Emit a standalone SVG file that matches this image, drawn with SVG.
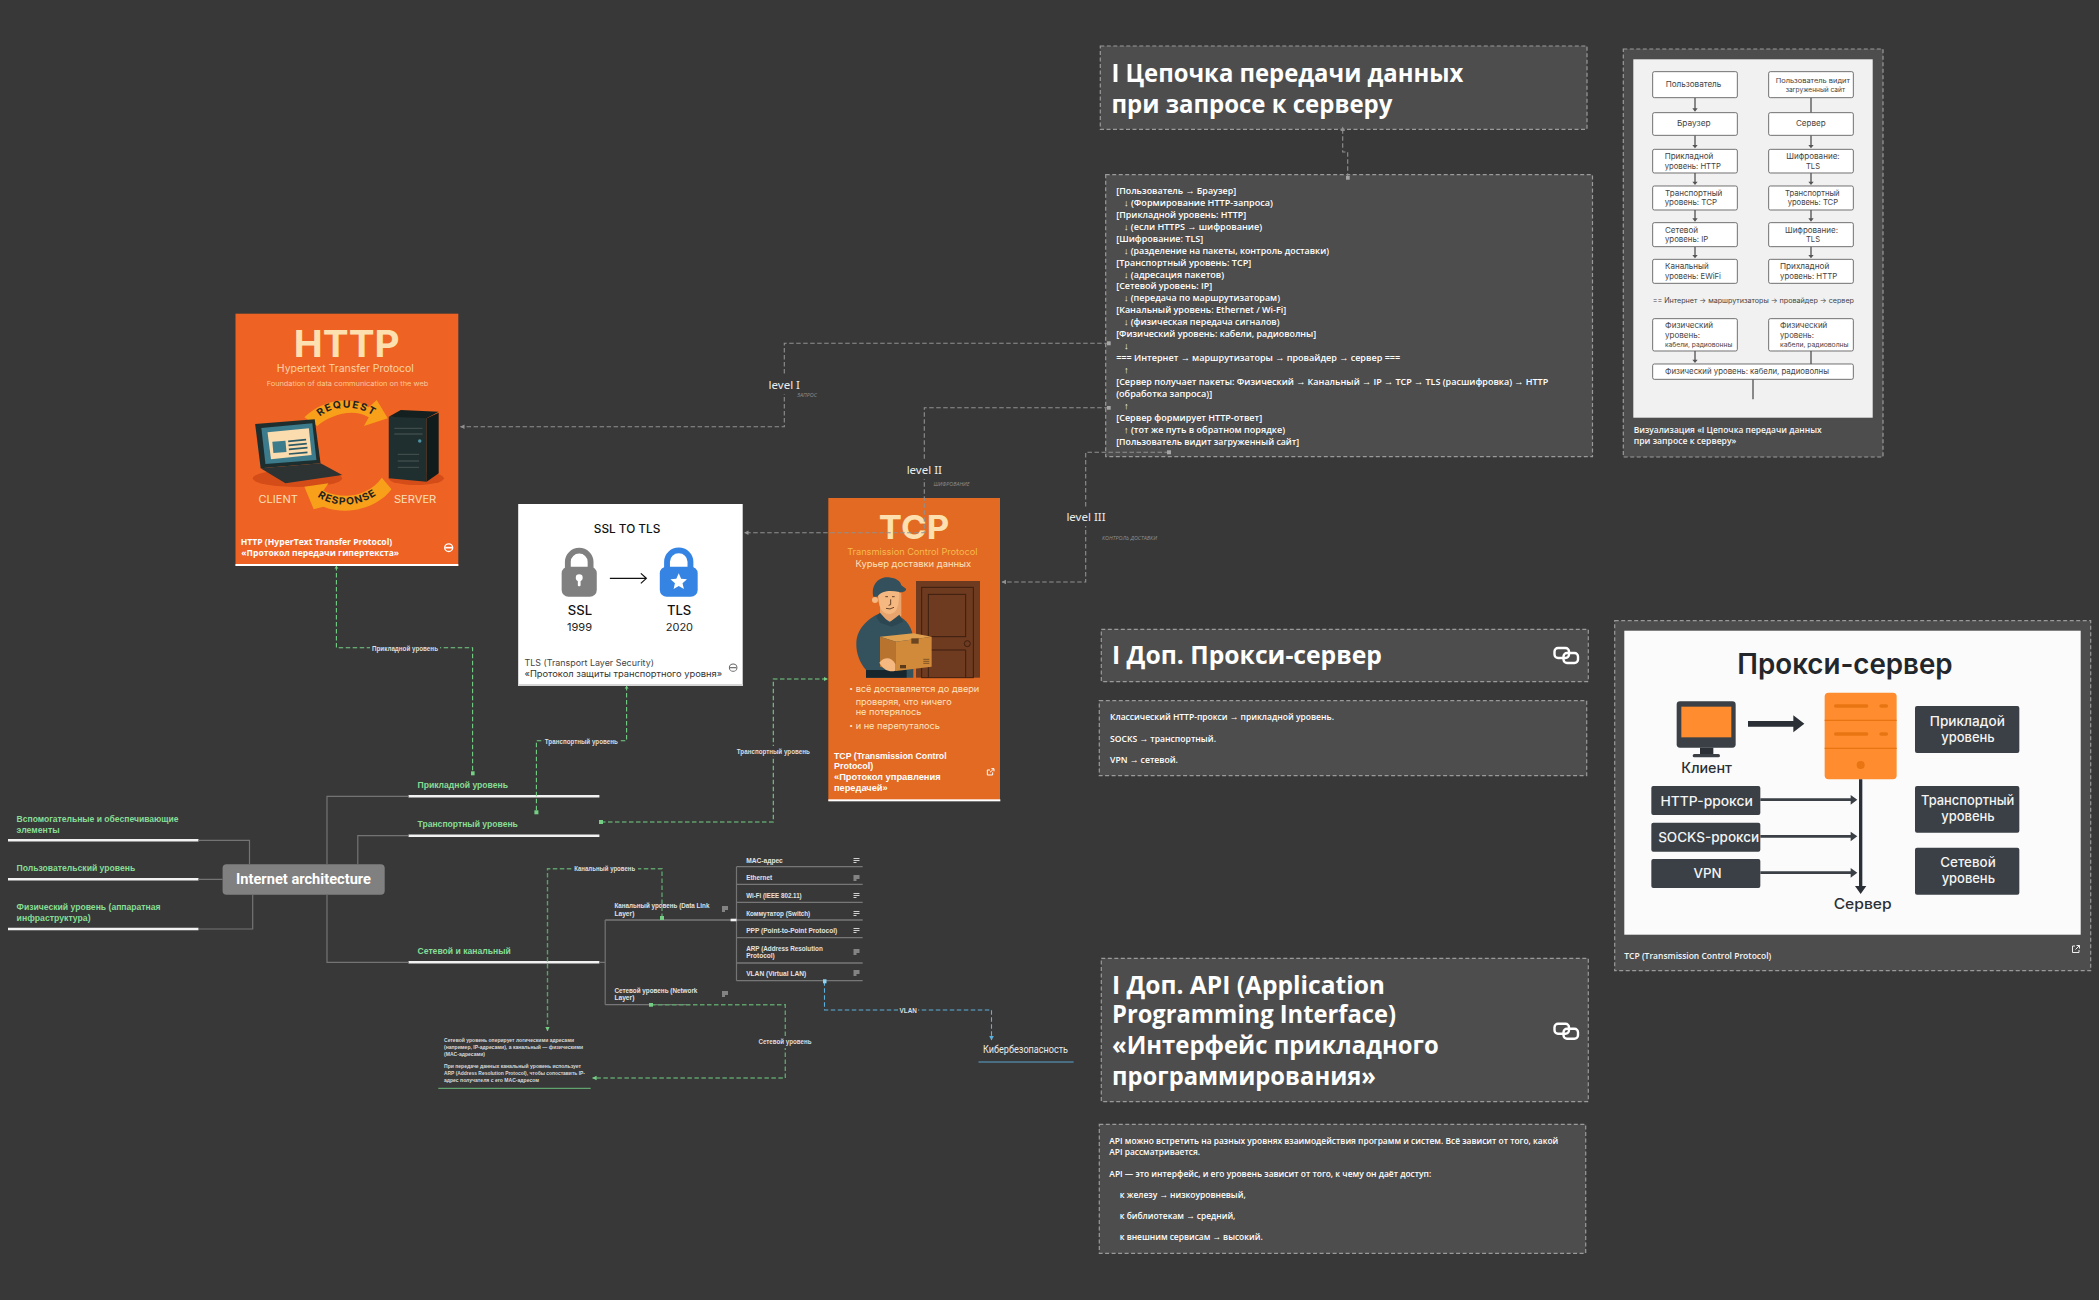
<svg xmlns="http://www.w3.org/2000/svg" width="2099" height="1300" viewBox="0 0 2099 1300">
<style>
text{font-family:"Open Sans","Noto Sans",sans-serif;}
.box{fill:#4d4d4d;stroke:#9a9a9a;stroke-width:1.2;stroke-dasharray:4 2.5;}
.h{fill:#fff;font-weight:700;font-size:24.5px;}
.b{fill:#fff;font-size:9.4px;font-weight:600;}
.cap{fill:#f6f6f6;font-size:9.4px;font-weight:600;}
.gn{fill:#86dd96;font-family:"Liberation Sans",sans-serif;font-weight:700;font-size:9.2px;}
.ul{stroke:#f2f2f2;stroke-width:2.6;fill:none;}
.row{fill:#e2e2e2;font-family:"Liberation Sans",sans-serif;font-size:6.4px;font-weight:700;}
.rl{stroke:#777;stroke-width:1.3;fill:none;}
.nt{stroke:#cfcfcf;stroke-width:1;fill:none;}
.note{fill:#d8d8d8;font-family:"Liberation Sans",sans-serif;font-size:5.4px;font-weight:700;}
.cn{fill:none;stroke-width:1.1;stroke-dasharray:4.5 2.5;}
.g{stroke:#909090;}
.gr{stroke:#74cf85;}
.gd{stroke:#5e9e6b;stroke-width:1.4;}
.bl{stroke:#5db0dc;}
.tr{fill:none;stroke:#747474;stroke-width:1.2;}
.lbl{fill:#dedede;font-family:"Liberation Sans",sans-serif;font-size:6.4px;font-weight:700;text-anchor:middle;}
.lev{fill:#ececec;font-size:11.5px;text-anchor:middle;font-family:"Noto Sans",sans-serif;}
.sub{fill:#8e8e8e;font-size:5.6px;font-style:italic;}
.bg{fill:#383838;}
.chain{fill:none;stroke:#fff;stroke-width:2.4;}
.fn{fill:#fff;stroke:#555;stroke-width:2.5;}
.ft{fill:#444;font-family:Inter,sans-serif;font-size:24px;}
.fa{stroke:#555;stroke-width:4;fill:none;}
.db{fill:#3a4046;}
.dt{fill:#f4f4f4;font-family:Inter,sans-serif;font-size:40px;font-weight:500;text-anchor:middle;}
.ot{font-family:Inter,sans-serif;}
.tc{font-family:"Liberation Sans",sans-serif;font-size:25px;font-weight:700;fill:#fff;}
</style>
<defs>
<marker id="ag" markerUnits="userSpaceOnUse" markerWidth="6" markerHeight="6" refX="4" refY="2.500" orient="auto"><path d="M0 0.200L4.500 2.500L0 4.800Z" fill="#909090"/></marker>
<marker id="agr" markerUnits="userSpaceOnUse" markerWidth="6" markerHeight="6" refX="4" refY="2.500" orient="auto"><path d="M0 0.200L4.500 2.500L0 4.800Z" fill="#74cf85"/></marker>
<marker id="abl" markerUnits="userSpaceOnUse" markerWidth="6" markerHeight="6" refX="4" refY="2.500" orient="auto"><path d="M0 0.200L4.500 2.500L0 4.800Z" fill="#5db0dc"/></marker>
<marker id="sg" markerUnits="userSpaceOnUse" markerWidth="5" markerHeight="5" refX="2" refY="2"><rect width="4" height="4" fill="#a5a5a5"/></marker>
<marker id="sgr" markerUnits="userSpaceOnUse" markerWidth="5" markerHeight="5" refX="2" refY="2"><rect width="4" height="4" fill="#74cf85"/></marker>
<marker id="sbl" markerUnits="userSpaceOnUse" markerWidth="5" markerHeight="5" refX="2" refY="2"><rect width="4" height="4" fill="#8fd4f5"/></marker>
<path id="reqp" d="M290 350C330 315 395 312 450 350"/>
<path id="resp" d="M283 590C330 624 410 624 468 574"/>
</defs>
<rect width="2099" height="1300" fill="#383838"/>

<g id="title-chain">
<rect class="box" x="1100.3" y="46" width="486.7" height="83.3"/>
<text class="h" x="1111.4" y="81.7" textLength="352" lengthAdjust="spacingAndGlyphs">I Цепочка передачи данных</text>
<text class="h" x="1111.4" y="112.7" textLength="281" lengthAdjust="spacingAndGlyphs">при запросе к серверу</text>
</g>

<g id="text-chain">
<rect class="box" x="1105.7" y="174.7" width="486.8" height="282"/>
<text class="b" x="1116.2" y="194" textLength="120" lengthAdjust="spacingAndGlyphs">[Пользователь → Браузер]</text>
<text class="b" x="1124" y="206" textLength="149" lengthAdjust="spacingAndGlyphs">↓ (Формирование HTTP-запроса)</text>
<text class="b" x="1116.2" y="218" textLength="130" lengthAdjust="spacingAndGlyphs">[Прикладной уровень: HTTP]</text>
<text class="b" x="1124" y="230" textLength="138" lengthAdjust="spacingAndGlyphs">↓ (если HTTPS → шифрование)</text>
<text class="b" x="1116.2" y="242" textLength="87" lengthAdjust="spacingAndGlyphs">[Шифрование: TLS]</text>
<text class="b" x="1124" y="254" textLength="205" lengthAdjust="spacingAndGlyphs">↓ (разделение на пакеты, контроль доставки)</text>
<text class="b" x="1116.2" y="266" textLength="135" lengthAdjust="spacingAndGlyphs">[Транспортный уровень: TCP]</text>
<text class="b" x="1124" y="278" textLength="100" lengthAdjust="spacingAndGlyphs">↓ (адресация пакетов)</text>
<text class="b" x="1116.2" y="289" textLength="96" lengthAdjust="spacingAndGlyphs">[Сетевой уровень: IP]</text>
<text class="b" x="1124" y="301" textLength="156" lengthAdjust="spacingAndGlyphs">↓ (передача по маршрутизаторам)</text>
<text class="b" x="1116.2" y="313" textLength="170" lengthAdjust="spacingAndGlyphs">[Канальный уровень: Ethernet / Wi-Fi]</text>
<text class="b" x="1124" y="325" textLength="155.5" lengthAdjust="spacingAndGlyphs">↓ (физическая передача сигналов)</text>
<text class="b" x="1116.2" y="337" textLength="200" lengthAdjust="spacingAndGlyphs">[Физический уровень: кабели, радиоволны]</text>
<text class="b" x="1124" y="349">↓</text>
<text class="b" x="1116.2" y="361" textLength="284" lengthAdjust="spacingAndGlyphs">=== Интернет → маршрутизаторы → провайдер → сервер ===</text>
<text class="b" x="1124" y="373">↑</text>
<text class="b" x="1116.2" y="385" textLength="432" lengthAdjust="spacingAndGlyphs">[Сервер получает пакеты: Физический → Канальный → IP → TCP → TLS (расшифровка) → HTTP</text>
<text class="b" x="1116.2" y="397" textLength="96" lengthAdjust="spacingAndGlyphs">(обработка запроса)]</text>
<text class="b" x="1124" y="409">↑</text>
<text class="b" x="1116.2" y="421" textLength="146" lengthAdjust="spacingAndGlyphs">[Сервер формирует HTTP-ответ]</text>
<text class="b" x="1124" y="433" textLength="161" lengthAdjust="spacingAndGlyphs">↑ (тот же путь в обратном порядке)</text>
<text class="b" x="1116.2" y="445" textLength="183" lengthAdjust="spacingAndGlyphs">[Пользователь видит загруженный сайт]</text>
</g>

<g id="image-chain">
<rect class="box" x="1623.3" y="49" width="259.7" height="408"/>
<rect x="1633.3" y="59.3" width="239.4" height="358.4" fill="#f1f1f1"/>
<g transform="translate(1610 30) scale(.33333)">
<g class="fa"><path d="M255 203V240M255 316V350M255 429V460M255 540V570M255 650V680M603 203V248M603 316V350M603 429V460M603 540V570M603 650V680M255 963V994M603 963V1002M429 1048V1108"/></g>
<path d="M247 235H263L255 245ZM247 345H263L255 355ZM247 455H263L255 465ZM247 565H263L255 575ZM247 675H263L255 685ZM595 345H611L603 355ZM595 455H611L603 465ZM595 565H611L603 575ZM595 675H611L603 685ZM247 989H263L255 999Z" fill="#555"/>
<rect class="fn" x="128" y="125" width="254" height="78" rx="5"/><rect class="fn" x="476" y="125" width="254" height="78" rx="5"/>
<rect class="fn" x="128" y="248" width="254" height="68" rx="5"/><rect class="fn" x="476" y="248" width="254" height="68" rx="5"/>
<rect class="fn" x="128" y="358" width="254" height="71" rx="5"/><rect class="fn" x="476" y="358" width="254" height="71" rx="5"/>
<rect class="fn" x="128" y="468" width="254" height="72" rx="5"/><rect class="fn" x="476" y="468" width="254" height="72" rx="5"/>
<rect class="fn" x="128" y="578" width="254" height="72" rx="5"/><rect class="fn" x="476" y="578" width="254" height="72" rx="5"/>
<rect class="fn" x="128" y="688" width="254" height="72" rx="5"/><rect class="fn" x="476" y="688" width="254" height="72" rx="5"/>
<rect class="fn" x="128" y="866" width="254" height="97" rx="5"/><rect class="fn" x="476" y="866" width="254" height="97" rx="5"/>
<rect class="fn" x="128" y="1002" width="602" height="46" rx="5"/>
<text class="ft" x="167" y="172" textLength="167" lengthAdjust="spacingAndGlyphs">Пользователь</text>
<text class="ft" x="497" y="158" textLength="223" lengthAdjust="spacingAndGlyphs" style="font-size:20px">Пользователь видит</text>
<text class="ft" x="527" y="187" textLength="178" lengthAdjust="spacingAndGlyphs" style="font-size:20px">загруженный сайт</text>
<text class="ft" x="201" y="289" textLength="101" lengthAdjust="spacingAndGlyphs">Браузер</text>
<text class="ft" x="558" y="289" textLength="89" lengthAdjust="spacingAndGlyphs">Сервер</text>
<text class="ft" x="164" y="387" textLength="146" lengthAdjust="spacingAndGlyphs">Прикладной</text>
<text class="ft" x="164" y="416" textLength="169" lengthAdjust="spacingAndGlyphs">уровень: HTTP</text>
<text class="ft" x="529" y="387" textLength="160" lengthAdjust="spacingAndGlyphs">Шифрование:</text>
<text class="ft" x="588" y="416" textLength="42" lengthAdjust="spacingAndGlyphs">TLS</text>
<text class="ft" x="165" y="497" textLength="172" lengthAdjust="spacingAndGlyphs">Транспортный</text>
<text class="ft" x="164" y="526" textLength="157" lengthAdjust="spacingAndGlyphs">уровень: TCP</text>
<text class="ft" x="525" y="497" textLength="164" lengthAdjust="spacingAndGlyphs">Транспортный</text>
<text class="ft" x="533" y="526" textLength="151" lengthAdjust="spacingAndGlyphs">уровень: TCP</text>
<text class="ft" x="165" y="608" textLength="99" lengthAdjust="spacingAndGlyphs">Сетевой</text>
<text class="ft" x="165" y="636" textLength="130" lengthAdjust="spacingAndGlyphs">уровень: IP</text>
<text class="ft" x="525" y="608" textLength="159" lengthAdjust="spacingAndGlyphs">Шифрование:</text>
<text class="ft" x="588" y="636" textLength="42" lengthAdjust="spacingAndGlyphs">TLS</text>
<text class="ft" x="165" y="718" textLength="131" lengthAdjust="spacingAndGlyphs">Канальный</text>
<text class="ft" x="165" y="747" textLength="168" lengthAdjust="spacingAndGlyphs">уровень: EWiFi</text>
<text class="ft" x="510" y="718" textLength="148" lengthAdjust="spacingAndGlyphs">Прихладной</text>
<text class="ft" x="510" y="747" textLength="172" lengthAdjust="spacingAndGlyphs">уровень: HTTP</text>
<text class="ft" x="128" y="820" textLength="604" lengthAdjust="spacingAndGlyphs" style="font-size:21px">== Интернет → маршрутизаторы → провайдер → сервер</text>
<text class="ft" x="165" y="895" textLength="144" lengthAdjust="spacingAndGlyphs" style="font-size:23px">Физический</text>
<text class="ft" x="165" y="925" textLength="105" lengthAdjust="spacingAndGlyphs" style="font-size:23px">уровень:</text>
<text class="ft" x="165" y="951" textLength="202" lengthAdjust="spacingAndGlyphs" style="font-size:19px">кабели, радиовонны</text>
<text class="ft" x="510" y="895" textLength="142" lengthAdjust="spacingAndGlyphs" style="font-size:23px">Физический</text>
<text class="ft" x="510" y="925" textLength="102" lengthAdjust="spacingAndGlyphs" style="font-size:23px">уровень:</text>
<text class="ft" x="510" y="951" textLength="206" lengthAdjust="spacingAndGlyphs" style="font-size:19px">кабели, радиоволны</text>
<text class="ft" x="165" y="1033" textLength="492" lengthAdjust="spacingAndGlyphs">Физический уровень: кабели, радиоволны</text>
</g>
<text class="cap" x="1633.7" y="432.7" textLength="188" lengthAdjust="spacingAndGlyphs">Визуализация «I Цепочка передачи данных</text>
<text class="cap" x="1633.7" y="444.3" textLength="102.7" lengthAdjust="spacingAndGlyphs">при запросе к серверу»</text>
</g>

<g id="card-http">
<rect x="235.5" y="313.7" width="222.8" height="252.3" fill="#ee6224"/>
<g transform="translate(220 300) scale(.3444 .33333)">
<text x="368" y="172" text-anchor="middle" font-size="110" font-weight="700" fill="#fde0b0" class="ot" textLength="307" lengthAdjust="spacingAndGlyphs">HTTP</text>
<text x="364" y="216" text-anchor="middle" font-size="29" fill="#fbd3a6" class="ot" textLength="398" lengthAdjust="spacingAndGlyphs">Hypertext Transfer Protocol</text>
<text x="370" y="258" text-anchor="middle" font-size="20" fill="#fbc99a" class="ot" textLength="469" lengthAdjust="spacingAndGlyphs">Foundation of data communication on the web</text>
<ellipse cx="225" cy="535" rx="130" ry="26" fill="#d44d18"/>
<ellipse cx="570" cy="535" rx="80" ry="20" fill="#d44d18"/>
<path d="M245 352C290 305 370 282 432 322L455 300L487 355L418 378L432 352C385 322 320 345 282 378Z" fill="#f9a01b"/>
<path d="M470 533L498 568C460 622 370 650 300 620L272 628L245 560L315 550L300 572C360 600 430 590 470 533Z" fill="#f9a01b"/>
<text font-size="30" font-weight="700" fill="#222" class="ot" letter-spacing="4"><textPath href="#reqp">REQUEST</textPath></text>
<text font-size="30" font-weight="700" fill="#222" class="ot" letter-spacing="3"><textPath href="#resp">RESPONSE</textPath></text>
<path d="M102 372L275 358L292 490L118 505Z" fill="#1e2e2e"/>
<path d="M120 384L268 370L280 480L132 492Z" fill="#3b7b8c"/>
<path d="M138 397L258 385L266 465L148 478Z" fill="#fbdcae"/>
<path d="M152 425L190 422L193 456L155 459Z" fill="#3b7b8c"/>
<path d="M198 424L250 419M199 436L252 431M200 448L254 443M200 462L254 457" stroke="#2b5a66" stroke-width="5" fill="none"/>
<path d="M118 505L292 490L355 525L190 550Z" fill="#2d3232"/>
<path d="M490 350L600 352V545L490 535Z" fill="#1f2e2e"/>
<path d="M490 350L525 330L635 335L600 355Z" fill="#14201f"/>
<path d="M600 355L635 338V520L600 545Z" fill="#101c1c"/>
<path d="M506 385H588M506 402H588M516 463H578M516 483H578M516 502H578" stroke="#3e4c4a" stroke-width="4" fill="none"/>
<circle cx="580" cy="423" r="5" fill="#4e93a5"/>
<text x="112" y="608" font-size="30" fill="#fbe0bb" class="ot" textLength="114" lengthAdjust="spacingAndGlyphs">CLIENT</text>
<text x="505" y="608" font-size="30" fill="#fbe0bb" class="ot" textLength="123" lengthAdjust="spacingAndGlyphs">SERVER</text>
<text x="60" y="734" font-size="25" font-weight="700" fill="#fff" textLength="440" lengthAdjust="spacingAndGlyphs">HTTP (HyperText Transfer Protocol)</text>
<text x="62" y="768" font-size="25" font-weight="700" fill="#fff" textLength="458" lengthAdjust="spacingAndGlyphs">«Протокол передачи гипертекста»</text>
<circle cx="664" cy="743" r="11.5" fill="none" stroke="#fff" stroke-width="4"/><path d="M654 743H674" stroke="#fff" stroke-width="5"/>
<rect x="45" y="792" width="647" height="6" fill="#fff"/>
</g>
</g>

<g id="card-tls">
<rect x="518.2" y="504" width="224.5" height="182" fill="#fff"/>
<g transform="translate(220 300) scale(.3444 .33333)">
<text x="1182" y="698" text-anchor="middle" font-size="34" font-weight="500" fill="#111" class="ot" textLength="193" lengthAdjust="spacingAndGlyphs">SSL TO TLS</text>
<path d="M1010 808V785A33 33 0 0 1 1076 785V808" fill="none" stroke="#808080" stroke-width="17"/>
<rect x="992" y="800" width="102" height="90" rx="20" fill="#808080"/>
<circle cx="1043" cy="833" r="10" fill="#fff"/><rect x="1039" y="835" width="8" height="24" rx="3" fill="#fff"/>
<path d="M1132 835H1238M1222 820L1238 835L1222 850" fill="none" stroke="#111" stroke-width="3.5"/>
<path d="M1298 808V785A34 34 0 0 1 1366 785V808" fill="none" stroke="#3584e4" stroke-width="17"/>
<rect x="1277" y="800" width="110" height="90" rx="20" fill="#3584e4"/>
<path d="M1332 820L1339 836L1356 838L1343 850L1347 867L1332 858L1317 867L1321 850L1308 838L1325 836Z" fill="#fff"/>
<text x="1045" y="945" text-anchor="middle" font-size="38" font-weight="500" fill="#111" class="ot">SSL</text>
<text x="1333" y="945" text-anchor="middle" font-size="38" font-weight="500" fill="#111" class="ot">TLS</text>
<text x="1044" y="993" text-anchor="middle" font-size="32" fill="#222" class="ot">1999</text>
<text x="1334" y="993" text-anchor="middle" font-size="32" fill="#222" class="ot">2020</text>
<text x="884" y="1097" font-size="26" fill="#444" class="ot" textLength="376" lengthAdjust="spacingAndGlyphs">TLS (Transport Layer Security)</text>
<text x="884" y="1130" font-size="26" fill="#333" class="ot" textLength="574" lengthAdjust="spacingAndGlyphs">«Протокол защиты транспортного уровня»</text>
<circle cx="1490" cy="1103" r="11" fill="none" stroke="#666" stroke-width="3"/><path d="M1481 1103H1499" stroke="#666" stroke-width="3.5"/>
<rect x="866" y="1152" width="652" height="6" fill="#d6d6d6"/>
</g>
</g>

<g id="card-tcp">
<rect x="828.3" y="498" width="171.7" height="303" fill="#e26a22"/>
<g transform="translate(740 440) scale(.33333)">
<text x="522" y="297" text-anchor="middle" font-size="100" font-weight="700" fill="#fde0b0" class="ot" textLength="211" lengthAdjust="spacingAndGlyphs">TCP</text>
<text x="517" y="344" text-anchor="middle" font-size="27" fill="#f8b94d" class="ot" textLength="391" lengthAdjust="spacingAndGlyphs">Transmission Control Protocol</text>
<text x="520" y="381" text-anchor="middle" font-size="27" fill="#fde3bf" class="ot" textLength="347" lengthAdjust="spacingAndGlyphs">Курьер доставки данных</text>
<rect x="528" y="423" width="192" height="290" fill="#6e3a20"/>
<rect x="545" y="442" width="155" height="271" fill="none" stroke="#3d1f10" stroke-width="3"/>
<rect x="565" y="463" width="112" height="127" fill="none" stroke="#3d1f10" stroke-width="3"/>
<path d="M565 713V630H677V713" fill="none" stroke="#3d1f10" stroke-width="3"/>
<circle cx="682" cy="611" r="9" fill="none" stroke="#3d1f10" stroke-width="3"/>
<path d="M349 610C350 560 395 530 420 520L480 530C510 545 520 580 520 600V713H378V690C360 670 348 640 349 610Z" fill="#34525e"/>
<path d="M378 690H500V713H378Z" fill="#17262c"/>
<path d="M420 470V528L450 545L484 528V458Z" fill="#e8a46c"/>
<path d="M414 460C414 500 425 522 447 522C468 522 478 505 478 450L420 448Z" fill="#f4b880"/>
<path d="M420 518L447 548L478 524L490 545L455 560L420 548L408 530Z" fill="#2c4752"/>
<path d="M400 470C392 430 420 410 445 412C470 414 482 425 484 436L498 446C500 452 490 458 478 456C450 450 425 452 412 470Z" fill="#34505c"/>
<circle cx="405" cy="480" r="9" fill="#f4b880"/>
<path d="M436 470H444M456 470H464M452 478V494L446 496M438 505Q450 510 462 502" fill="none" stroke="#4a2a14" stroke-width="2.5"/>
<path d="M420 590L520 580L575 590L468 605Z" fill="#dfa050"/>
<path d="M420 590L468 605V693L420 680Z" fill="#b8742e"/>
<path d="M468 605L575 590V680L468 693Z" fill="#d08a3a"/>
<rect x="514" y="595" width="22" height="16" fill="#6b4522"/>
<path d="M550 658H568M550 664H568M550 670H568" stroke="#5a3a1a" stroke-width="2"/>
<rect x="480" y="675" width="18" height="10" fill="#5a3a1a"/>
<path d="M418 668C432 650 455 650 466 672V692C450 698 430 690 418 668Z" fill="#f4b880"/>
<text x="328" y="754" font-size="20" fill="#fde3bf" class="ot">•</text>
<text x="347" y="756" font-size="26" fill="#fde3bf" class="ot" textLength="371" lengthAdjust="spacingAndGlyphs">всё доставляется до двери</text>
<text x="347" y="795" font-size="26" fill="#fde3bf" class="ot" textLength="288" lengthAdjust="spacingAndGlyphs">проверяя, что ничего</text>
<text x="347" y="826" font-size="26" fill="#fde3bf" class="ot" textLength="197" lengthAdjust="spacingAndGlyphs">не потерялось</text>
<text x="328" y="865" font-size="20" fill="#fde3bf" class="ot">•</text>
<text x="347" y="867" font-size="26" fill="#fde3bf" class="ot" textLength="253" lengthAdjust="spacingAndGlyphs">и не перепуталось</text>
<text class="tc" x="282" y="956" textLength="338" lengthAdjust="spacingAndGlyphs">TCP (Transmission Control</text>
<text class="tc" x="282" y="986" textLength="118" lengthAdjust="spacingAndGlyphs">Protocol)</text>
<text class="tc" x="282" y="1020" textLength="320" lengthAdjust="spacingAndGlyphs">«Протокол управления</text>
<text class="tc" x="282" y="1052" textLength="161" lengthAdjust="spacingAndGlyphs">передачей»</text>
<path d="M750 990H742V1005H758V997M750 997L762 986M754 986H762V994" fill="none" stroke="#fff" stroke-width="3"/>
<rect x="265" y="1078" width="516" height="6" fill="#fff"/>
</g>
</g>

<g id="title-proxy">
<rect class="box" x="1101.3" y="629.3" width="487" height="52.4"/>
<text class="h" x="1112" y="664.3" textLength="270" lengthAdjust="spacingAndGlyphs">I Доп. Прокси-сервер</text>
<rect class="chain" x="1554.500" y="648" width="14.500" height="10" rx="3.500"/><rect class="chain" x="1563.500" y="653" width="14.500" height="10" rx="3.500"/>
</g>

<g id="text-proxy">
<rect class="box" x="1099.3" y="700.7" width="487.4" height="75"/>
<text class="b" x="1110" y="719.7" textLength="224" lengthAdjust="spacingAndGlyphs">Классический HTTP-прокси → прикладной уровень.</text>
<text class="b" x="1110" y="741.7" textLength="106" lengthAdjust="spacingAndGlyphs">SOCKS → транспортный.</text>
<text class="b" x="1110" y="762.7" textLength="68" lengthAdjust="spacingAndGlyphs">VPN → сетевой.</text>
</g>

<g id="image-proxy">
<rect class="box" x="1614.7" y="620.7" width="476" height="350"/>
<rect x="1624.3" y="630.7" width="456.4" height="304" fill="#fbfbfb"/>
<g transform="translate(1610 610) scale(.33333)">
<text x="705" y="192" text-anchor="middle" font-size="84" font-weight="600" fill="#23272b" class="ot" textLength="646" lengthAdjust="spacingAndGlyphs">Прокси-сервер</text>
<rect x="200" y="274" width="177" height="139" rx="10" fill="#3a4046"/>
<rect x="214" y="290" width="150" height="92" fill="#ff8c2e"/>
<rect x="270" y="413" width="40" height="20" fill="#2b3036"/><rect x="248" y="432" width="82" height="10" rx="5" fill="#3a4046"/>
<text x="290" y="490" text-anchor="middle" font-size="42" font-weight="500" fill="#2b3036" class="ot" textLength="152" lengthAdjust="spacingAndGlyphs">Клиент</text>
<path d="M414 333H550V316L583 341L550 367V350H414Z" fill="#2b3036"/>
<rect x="644" y="248" width="216" height="260" rx="12" fill="#ff8c2e"/>
<path d="M644 331H860M644 415H860" stroke="#e87512" stroke-width="4"/>
<rect x="672" y="283" width="103" height="10" rx="5" fill="#e87512"/><rect x="808" y="283" width="26" height="10" rx="5" fill="#e87512"/>
<rect x="672" y="367" width="103" height="10" rx="5" fill="#e87512"/><rect x="808" y="367" width="26" height="10" rx="5" fill="#e87512"/>
<circle cx="752" cy="465" r="12" fill="#e87512"/>
<path d="M747 508H757V828H769L752 852L735 828H747Z" fill="#2b3036"/>
<text x="758" y="898" text-anchor="middle" font-size="42" font-weight="500" fill="#2b3036" class="ot" textLength="174" lengthAdjust="spacingAndGlyphs">Сервер</text>
<path d="M451 565H722V555L742 569L722 584V573H451ZM451 675H722V665L742 679L722 694V683H451ZM451 784H722V774L742 788L722 803V792H451Z" fill="#3a4046"/>
<rect class="db" x="124" y="528" width="327" height="87" rx="6"/>
<rect class="db" x="124" y="638" width="327" height="87" rx="6"/>
<rect class="db" x="124" y="747" width="327" height="87" rx="6"/>
<text class="dt" x="290" y="587" textLength="277" lengthAdjust="spacingAndGlyphs">HTTP-ррокси</text>
<text class="dt" x="296" y="696" textLength="303" lengthAdjust="spacingAndGlyphs">SOCKS-ррокси</text>
<text class="dt" x="293" y="805">VPN</text>
<rect class="db" x="915" y="288" width="313" height="141" rx="6"/>
<rect class="db" x="915" y="528" width="313" height="140" rx="6"/>
<rect class="db" x="915" y="713" width="313" height="141" rx="6"/>
<text class="dt" x="1072" y="347" textLength="225" lengthAdjust="spacingAndGlyphs">Прикладой</text><text class="dt" x="1074" y="397" textLength="160" lengthAdjust="spacingAndGlyphs">уровень</text>
<text class="dt" x="1073" y="584" textLength="280" lengthAdjust="spacingAndGlyphs">Транспортный</text><text class="dt" x="1074" y="634" textLength="160" lengthAdjust="spacingAndGlyphs">уровень</text>
<text class="dt" x="1074" y="770" textLength="166" lengthAdjust="spacingAndGlyphs">Сетевой</text><text class="dt" x="1075" y="820" textLength="160" lengthAdjust="spacingAndGlyphs">уровень</text>
</g>
<text class="cap" x="1624.3" y="958.7" textLength="147" lengthAdjust="spacingAndGlyphs">TCP (Transmission Control Protocol)</text>
<path d="M2075 946H2072.5V952.5H2079V950M2075.500 949.500L2079.500 945.500M2076.500 945.500H2079.500V948.500" fill="none" stroke="#eee" stroke-width="1"/>
</g>

<g id="title-api">
<rect class="box" x="1101.3" y="958.3" width="487" height="143.4"/>
<text class="h" x="1112" y="994" textLength="273" lengthAdjust="spacingAndGlyphs">I Доп. API (Application</text>
<text class="h" x="1112" y="1023.3" textLength="284" lengthAdjust="spacingAndGlyphs">Programming Interface)</text>
<text class="h" x="1112" y="1054" textLength="326.700" lengthAdjust="spacingAndGlyphs">«Интерфейс прикладного</text>
<text class="h" x="1112" y="1084.7" textLength="264" lengthAdjust="spacingAndGlyphs">программирования»</text>
<rect class="chain" x="1554.500" y="1023.700" width="14.500" height="10" rx="3.500"/><rect class="chain" x="1563.500" y="1028.700" width="14.500" height="10" rx="3.500"/>
</g>

<g id="text-api">
<rect class="box" x="1099.3" y="1124.3" width="486.4" height="129"/>
<text class="b" x="1109.3" y="1143.7" textLength="449" lengthAdjust="spacingAndGlyphs">API можно встретить на разных уровнях взаимодействия программ и систем. Всё зависит от того, какой</text>
<text class="b" x="1109.3" y="1154.7" textLength="90.700" lengthAdjust="spacingAndGlyphs" style="font-size:8.2px">API рассматривается.</text>
<text class="b" x="1109.3" y="1176.7" textLength="322" lengthAdjust="spacingAndGlyphs">API — это интерфейс, и его уровень зависит от того, к чему он даёт доступ:</text>
<text class="b" x="1119.7" y="1197.7" textLength="126" lengthAdjust="spacingAndGlyphs">к железу → низкоуровневый,</text>
<text class="b" x="1119.7" y="1219.3" textLength="115.700" lengthAdjust="spacingAndGlyphs">к библиотекам → средний,</text>
<text class="b" x="1119.7" y="1240.300" textLength="143" lengthAdjust="spacingAndGlyphs">к внешним сервисам → высокий.</text>
</g>

<g id="root-internet">
<rect x="222.6" y="864.3" width="162.100" height="30.400" rx="4" fill="#808080"/>
<text x="236" y="884" font-size="14" font-weight="700" fill="#fff" textLength="135" lengthAdjust="spacingAndGlyphs" style="font-family:Roboto,sans-serif">Internet architecture</text>
</g>
<g id="node-support"><text class="gn" x="16.600" y="822" textLength="162" lengthAdjust="spacingAndGlyphs">Вспомогательные и обеспечивающие</text><text class="gn" x="16.600" y="832.500" textLength="43" lengthAdjust="spacingAndGlyphs">элементы</text><path class="ul" d="M8 840.300H198.500"/></g>
<g id="node-user"><text class="gn" x="16.600" y="870.700" textLength="118.600" lengthAdjust="spacingAndGlyphs">Пользовательский уровень</text><path class="ul" d="M8 879.300H198.500"/></g>
<g id="node-physical"><text class="gn" x="16.600" y="909.700" textLength="144" lengthAdjust="spacingAndGlyphs">Физический уровень (аппаратная</text><text class="gn" x="16.600" y="920.700" textLength="74" lengthAdjust="spacingAndGlyphs">инфраструктура)</text><path class="ul" d="M8 929H198.500"/></g>
<g id="node-app"><text class="gn" x="417.500" y="787.700" textLength="90.500" lengthAdjust="spacingAndGlyphs">Прикладной уровень</text><path class="ul" d="M408.500 796.300H599.400"/></g>
<g id="node-transport"><text class="gn" x="417.500" y="826.700" textLength="100.400" lengthAdjust="spacingAndGlyphs">Транспортный уровень</text><path class="ul" d="M408.500 835.700H599.400"/></g>
<g id="node-netlink"><text class="gn" x="417.500" y="953.700" textLength="93.300" lengthAdjust="spacingAndGlyphs">Сетевой и канальный</text><path class="ul" d="M408.500 962.300H599.400"/></g>

<g id="node-datalink">
<text class="row" x="614.400" y="908" textLength="95" lengthAdjust="spacingAndGlyphs">Канальный уровень (Data Link</text>
<text class="row" x="614.400" y="916" textLength="20" lengthAdjust="spacingAndGlyphs">Layer)</text>
<path class="rl" d="M605.200 920H736.500"/>
<path class="nt" d="M722 907H728M722 909H728M722 911H725"/>
</g>
<g id="node-network">
<text class="row" x="614.400" y="993" textLength="83" lengthAdjust="spacingAndGlyphs">Сетевой уровень (Network</text>
<text class="row" x="614.400" y="1000.300" textLength="20" lengthAdjust="spacingAndGlyphs">Layer)</text>
<path class="rl" d="M605.200 1004.700H690"/>
<path class="nt" d="M722 992H728M722 994H728M722 996H725"/>
</g>
<g id="node-list">
<path class="rl" d="M736.500 866.700H862.700M736.500 884.300H862.700M736.500 902.300H862.700M736.500 920H862.700M736.500 937.700H862.700M736.500 963H862.700M736.500 980.700H862.700"/>
<text class="row" x="746.200" y="862.700" textLength="36.600" lengthAdjust="spacingAndGlyphs">MAC-адрес</text>
<text class="row" x="746.200" y="880" textLength="26" lengthAdjust="spacingAndGlyphs">Ethernet</text>
<text class="row" x="746.200" y="898" textLength="55.500" lengthAdjust="spacingAndGlyphs">Wi-Fi (IEEE 802.11)</text>
<text class="row" x="746.200" y="916" textLength="64" lengthAdjust="spacingAndGlyphs">Коммутатор (Switch)</text>
<text class="row" x="746.200" y="933" textLength="91" lengthAdjust="spacingAndGlyphs">PPP (Point-to-Point Protocol)</text>
<text class="row" x="746.200" y="950.700" textLength="76.600" lengthAdjust="spacingAndGlyphs">ARP (Address Resolution</text>
<text class="row" x="746.200" y="958" textLength="28.600" lengthAdjust="spacingAndGlyphs">Protocol)</text>
<text class="row" x="746.200" y="975.700" textLength="60" lengthAdjust="spacingAndGlyphs">VLAN (Virtual LAN)</text>
<path class="nt" d="M853.500 858.500H859.500M853.500 860.500H859.500M853.500 862.500H856.500M853.500 876H859.500M853.500 878H859.500M853.500 880H856.500M853.500 893.500H859.500M853.500 895.500H859.500M853.500 897.500H856.500M853.500 911.500H859.500M853.500 913.500H859.500M853.500 915.500H856.500M853.500 928.500H859.500M853.500 930.500H859.500M853.500 932.500H856.500M853.500 950H859.500M853.500 952H859.500M853.500 954H856.500M853.500 971H859.500M853.500 973H859.500M853.500 975H856.500"/>
</g>
<g id="node-note">
<text class="note" x="444" y="1042" textLength="130" lengthAdjust="spacingAndGlyphs">Сетевой уровень оперирует логическими адресами</text>
<text class="note" x="444" y="1049" textLength="139" lengthAdjust="spacingAndGlyphs">(например, IP-адресами), а канальный — физическими</text>
<text class="note" x="444" y="1056" textLength="41" lengthAdjust="spacingAndGlyphs">(MAC-адресами)</text>
<text class="note" x="444" y="1068" textLength="137" lengthAdjust="spacingAndGlyphs">При передаче данных канальный уровень использует</text>
<text class="note" x="444" y="1075" textLength="141" lengthAdjust="spacingAndGlyphs">ARP (Address Resolution Protocol), чтобы сопоставить IP-</text>
<text class="note" x="444" y="1081.500" textLength="95" lengthAdjust="spacingAndGlyphs">адрес получателя с его MAC-адресом</text>
<path d="M438.300 1088.300H590.700" stroke="#6bbf7c" stroke-width="1" fill="none"/>
</g>
<g id="node-cyber">
<text x="983" y="1053.300" font-size="10" fill="#eaeaea" textLength="85" lengthAdjust="spacingAndGlyphs" style="font-family:Roboto,sans-serif">Кибербезопасность</text>
<path d="M978.500 1062H1073.600" stroke="#5aa5cf" stroke-width="1" fill="none"/>
</g>

<g id="connectors">
<path class="tr" d="M198.500 840.300H249.500V864.300M198.500 879.300H222.600M198.500 929H252.700V894.700M408.500 796.300H327V864.300M327 894.700V962.300H408.500M408.500 835.700H357.800V864.300"/>
<path class="tr" d="M599.400 962.300H605.200M605.200 920V1004.700M736.500 866.700V980.700"/>
<path d="M730.600 920H736.500" stroke="#f2f2f2" stroke-width="2.600"/>

<path class="cn g" d="M1347.700 177.700V152H1342.700V127" marker-start="url(#sg)" marker-end="url(#ag)"/>
<path class="cn g" d="M1108.700 343.300H784.300V426.700H460.500" marker-start="url(#sg)" marker-end="url(#ag)"/>
<path class="cn g" d="M1108.700 407.700H924.300V532.700H744.500" marker-start="url(#sg)" marker-end="url(#ag)"/>
<path class="cn g" d="M1169 452.300H1085.700V582H1002" marker-start="url(#sg)" marker-end="url(#ag)"/>
<rect class="bg" x="766" y="376" width="37" height="18"/><text class="lev" x="784.300" y="389">level I</text>
<rect class="bg" x="906" y="461" width="37" height="18"/><text class="lev" x="924.300" y="474">level II</text>
<rect class="bg" x="1066" y="508" width="40" height="18"/><text class="lev" x="1086" y="521">level III</text>
<text class="sub" x="797" y="397" textLength="20" lengthAdjust="spacingAndGlyphs">ЗАПРОС</text>
<text class="sub" x="933.500" y="486" textLength="36" lengthAdjust="spacingAndGlyphs">ШИФРОВАНИЕ</text>
<text class="sub" x="1102" y="540" textLength="55" lengthAdjust="spacingAndGlyphs">КОНТРОЛЬ ДОСТАВКИ</text>

<path class="cn gr" d="M336.400 566V647.700H472.600V773.300" marker-end="url(#sgr)"/>
<rect class="bg" x="370" y="644" width="70" height="8"/><text class="lbl" x="405" y="650.500" textLength="66" lengthAdjust="spacingAndGlyphs">Прикладной уровень</text>
<path d="M334.400 568.500L336.400 566L338.400 568.500Z" fill="#74cf85"/>
<path class="cn gr" d="M626.600 686V740.700H536.400V812.300" marker-end="url(#sgr)"/>
<rect class="bg" x="544" y="737" width="76" height="8"/><text class="lbl" x="581.300" y="743.500" textLength="73" lengthAdjust="spacingAndGlyphs">Транспортный уровень</text>
<path d="M624.600 688.500L626.600 686L628.600 688.500Z" fill="#74cf85"/>
<path class="cn gr" d="M601 822H773.300V679H827.500" marker-start="url(#sgr)" marker-end="url(#agr)"/>
<rect class="bg" x="735" y="746" width="77" height="10"/><text class="lbl" x="773.300" y="753.500" textLength="73" lengthAdjust="spacingAndGlyphs">Транспортный уровень</text>

<path class="cn gd" d="M662 918V868.700H547.500V1030.700" marker-start="url(#sgr)" marker-end="url(#agr)"/>
<rect class="bg" x="572" y="865" width="66" height="8"/><text class="lbl" x="604.700" y="871.300" textLength="61" lengthAdjust="spacingAndGlyphs">Канальный уровень</text>
<path class="cn gd" d="M651 1004.700H785.300V1078H592.600" marker-start="url(#sgr)" marker-end="url(#agr)"/>
<rect class="bg" x="756" y="1036" width="58" height="12"/><text class="lbl" x="785" y="1044" textLength="53" lengthAdjust="spacingAndGlyphs">Сетевой уровень</text>

<path class="cn bl" d="M824.500 981.300V1010H991.500V1040" marker-start="url(#sbl)" marker-end="url(#abl)"/>
<rect class="bg" x="898" y="1006" width="20" height="8"/><text class="lbl" x="908.200" y="1012.500">VLAN</text>
</g>
</svg>
